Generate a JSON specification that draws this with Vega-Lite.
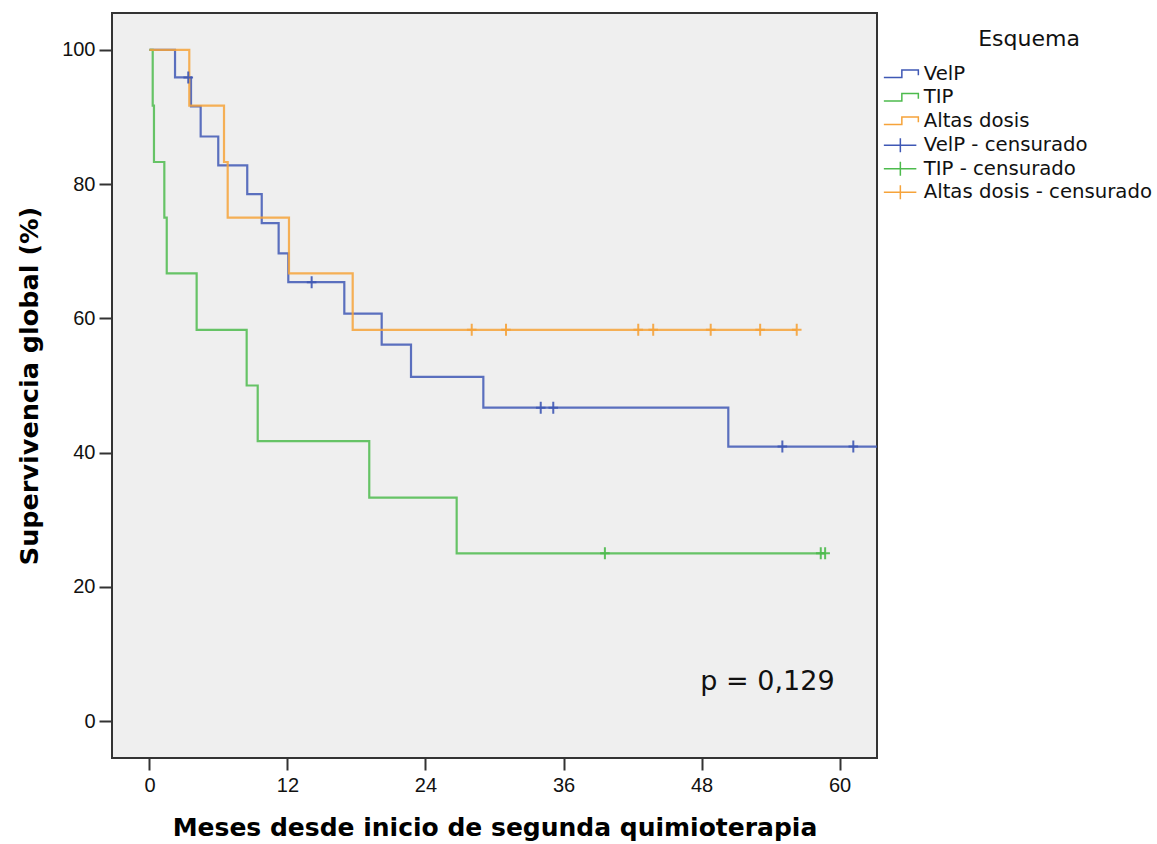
{
  "$schema": "https://vega.github.io/schema/vega-lite/v6.json",
  "width": 765,
  "height": 745,
  "autosize": {"type": "none"},
  "padding": {"left": 112, "top": 13, "right": 280, "bottom": 86},
  "background": "white",
  "config": {
    "view": {"fill": "#efefef", "stroke": "#333333", "strokeWidth": 2},
    "axis": {"grid": false, "domain": false}
  },
  "datasets": {
    "curvas": [
      {"serie": "VelP", "t": 0, "s": 100},
      {"serie": "VelP", "t": 2.22, "s": 95.9},
      {"serie": "VelP", "t": 3.61, "s": 91.6},
      {"serie": "VelP", "t": 4.45, "s": 87.1},
      {"serie": "VelP", "t": 5.98, "s": 82.8},
      {"serie": "VelP", "t": 8.5, "s": 78.5},
      {"serie": "VelP", "t": 9.76, "s": 74.2},
      {"serie": "VelP", "t": 11.23, "s": 69.7},
      {"serie": "VelP", "t": 12.07, "s": 65.4},
      {"serie": "VelP", "t": 16.94, "s": 60.7},
      {"serie": "VelP", "t": 20.19, "s": 56.1},
      {"serie": "VelP", "t": 22.74, "s": 51.3},
      {"serie": "VelP", "t": 29.03, "s": 46.7},
      {"serie": "VelP", "t": 50.33, "s": 40.9},
      {"serie": "VelP", "t": 64, "s": 40.9},
      {"serie": "TIP", "t": 0, "s": 100},
      {"serie": "TIP", "t": 0.28, "s": 91.7},
      {"serie": "TIP", "t": 0.39, "s": 83.3},
      {"serie": "TIP", "t": 1.29, "s": 75},
      {"serie": "TIP", "t": 1.5, "s": 66.7},
      {"serie": "TIP", "t": 4.1, "s": 58.3},
      {"serie": "TIP", "t": 8.45, "s": 50},
      {"serie": "TIP", "t": 9.41, "s": 41.7},
      {"serie": "TIP", "t": 19.11, "s": 33.3},
      {"serie": "TIP", "t": 26.71, "s": 25},
      {"serie": "TIP", "t": 58.75, "s": 25},
      {"serie": "Altas dosis", "t": 0, "s": 100},
      {"serie": "Altas dosis", "t": 3.46, "s": 91.7},
      {"serie": "Altas dosis", "t": 6.48, "s": 83.3},
      {"serie": "Altas dosis", "t": 6.8, "s": 75},
      {"serie": "Altas dosis", "t": 12.13, "s": 66.7},
      {"serie": "Altas dosis", "t": 17.67, "s": 58.3},
      {"serie": "Altas dosis", "t": 56.28, "s": 58.3}
    ],
    "censuras": [
      {"serie": "VelP - censurado", "t": 3.37, "s": 95.9},
      {"serie": "VelP - censurado", "t": 14.1, "s": 65.4},
      {"serie": "VelP - censurado", "t": 34.02, "s": 46.7},
      {"serie": "VelP - censurado", "t": 35.11, "s": 46.7},
      {"serie": "VelP - censurado", "t": 55.03, "s": 40.9},
      {"serie": "VelP - censurado", "t": 61.2, "s": 40.9},
      {"serie": "TIP - censurado", "t": 39.6, "s": 25},
      {"serie": "TIP - censurado", "t": 58.37, "s": 25},
      {"serie": "TIP - censurado", "t": 58.75, "s": 25},
      {"serie": "Altas dosis - censurado", "t": 28.02, "s": 58.3},
      {"serie": "Altas dosis - censurado", "t": 31.0, "s": 58.3},
      {"serie": "Altas dosis - censurado", "t": 42.5, "s": 58.3},
      {"serie": "Altas dosis - censurado", "t": 43.8, "s": 58.3},
      {"serie": "Altas dosis - censurado", "t": 48.8, "s": 58.3},
      {"serie": "Altas dosis - censurado", "t": 53.1, "s": 58.3},
      {"serie": "Altas dosis - censurado", "t": 56.28, "s": 58.3}
    ],
    "nota": [
      {"t": 47.9, "s": 4.6, "label": "p = 0,129"}
    ]
  },
  "layer": [
    {
      "data": {"name": "curvas"},
      "mark": {"type": "line", "interpolate": "step-after", "strokeWidth": 2.2, "opacity": 0.85, "clip": true},
      "encoding": {
        "x": {
          "field": "t", "type": "quantitative",
          "scale": {"domain": [-3.26, 63.26], "nice": false, "zero": false},
          "axis": {
            "values": [0, 12, 24, 36, 48, 60],
            "title": "Meses desde inicio de segunda quimioterapia",
            "tickSize": 12, "tickWidth": 2, "tickColor": "#333333",
            "labelFont": "Liberation Sans", "labelFontSize": 20, "labelColor": "#111111", "labelPadding": 5,
            "titleFont": "DejaVu Sans", "titleFontSize": 25, "titleFontWeight": "bold", "titleColor": "#000000", "titlePadding": 20
          }
        },
        "y": {
          "field": "s", "type": "quantitative",
          "scale": {"domain": [-5.5, 105.5], "nice": false, "zero": false},
          "axis": {
            "values": [0, 20, 40, 60, 80, 100],
            "title": "Supervivencia global (%)",
            "tickSize": 13, "tickWidth": 2, "tickColor": "#333333",
            "labelFont": "Liberation Sans", "labelFontSize": 20, "labelColor": "#111111", "labelPadding": 4,
            "titleFont": "DejaVu Sans", "titleFontSize": 25.5, "titleFontWeight": "bold", "titleColor": "#000000", "titlePadding": 19
          }
        },
        "color": {
          "field": "serie", "type": "nominal",
          "scale": {
            "domain": ["VelP", "TIP", "Altas dosis"],
            "range": ["#3f58b5", "#4dbb4d", "#f6a33a"]
          },
          "legend": {
            "title": "Esquema",
            "orient": "none", "legendX": 767, "legendY": 16, "padding": 0,
            "titleFont": "DejaVu Sans", "titleFontSize": 22, "titleFontWeight": "normal", "titleColor": "#111111",
            "titleAnchor": "end", "titleAlign": "center", "titlePadding": 13,
            "labelFont": "DejaVu Sans", "labelFontSize": 19.7, "labelColor": "#111111", "labelLimit": 400,
            "symbolType": "M-1,0.75H2.6V-0.75H5.9V0.3",
            "symbolFillColor": "transparent",
            "symbolSize": 100, "symbolStrokeWidth": 1.5, "symbolOpacity": 1, "labelOffset": 25, "rowPadding": 2.5
          }
        },
        "order": {"field": "t", "type": "quantitative"}
      }
    },
    {
      "data": {"name": "censuras"},
      "mark": {"type": "point", "shape": "M-0.8,0H0.8M0,-1V1", "size": 144, "filled": false, "strokeWidth": 2, "opacity": 0.9},
      "encoding": {
        "x": {"field": "t", "type": "quantitative"},
        "y": {"field": "s", "type": "quantitative"},
        "stroke": {
          "field": "serie", "type": "nominal",
          "scale": {
            "domain": ["VelP - censurado", "TIP - censurado", "Altas dosis - censurado"],
            "range": ["#3f58b5", "#4dbb4d", "#f6a33a"]
          },
          "legend": {
            "title": null,
            "orient": "none", "legendX": 767, "legendY": 122.5, "padding": 0,
            "labelFont": "DejaVu Sans", "labelFontSize": 19.7, "labelColor": "#111111", "labelLimit": 400,
            "symbolType": "M-1,0H5.5M2.3,-1.4V1.4",
            "symbolFillColor": "transparent",
            "symbolSize": 100, "symbolStrokeWidth": 1.5, "symbolOpacity": 1, "labelOffset": 25, "rowPadding": 2.5
          }
        }
      }
    },
    {
      "data": {"name": "nota"},
      "mark": {"type": "text", "align": "left", "baseline": "alphabetic", "font": "DejaVu Sans", "fontSize": 27, "color": "#111111"},
      "encoding": {
        "x": {"field": "t", "type": "quantitative"},
        "y": {"field": "s", "type": "quantitative"},
        "text": {"field": "label"}
      }
    }
  ]
}
